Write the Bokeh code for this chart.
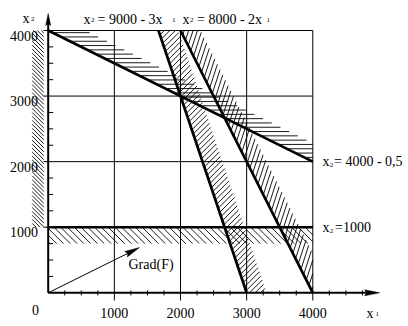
import numpy as np
from bokeh.plotting import figure
from bokeh.models import Range1d
from bokeh.core.properties import value
from bokeh.embed import file_html
from bokeh.resources import INLINE

# ---------------- data ----------------
# constraints written as x2 = c - m * x1
c_vals = [9000, 8000, 4000, 1000]
m_vals = [3, 2, 0.5, 0]
band_side = [1, 1, 1, -1]          # +1: hatched above the line, -1: below
band_dc = [900, 600, 280, 250]     # hatch band thickness (in c units)
band_angle = [45, 72, 0, -45]      # hatch stroke direction (degrees)
band_gap = [3.9, 4.2, 4.3, 4.8]    # hatch spacing (px)
x_ticks = [1000, 2000, 3000, 4000]
y_ticks = [1000, 2000, 3000, 4000]
x_tick_labels = ["1000", "2000", "3000", "4000"]
y_tick_labels = ["1000", "2000", "3000", "4000"]
box_max = 4000
grad_end = [1380, 690]             # Grad(F) direction (2, 1)
x_axis_end = 5010
y_axis_end = 4260
minor_step = 250

# ---------------- layout ----------------
W, H = 408, 326
SX = 264.6 / 4000.0
SY = 262.3 / 4000.0
PX0 = 47.7
PY4000 = 30.0
XR0 = -PX0 / SX
XR1 = XR0 + W / SX
YR1 = 4000 + PY4000 / SY
YR0 = YR1 - H / SY


def X(px):
    return XR0 + px / SX


def Y(py):
    return YR1 - py / SY


p = figure(width=W, height=H, x_range=Range1d(XR0, XR1), y_range=Range1d(YR0, YR1),
           output_backend="svg", toolbar_location=None,
           x_axis_location=None, y_axis_location=None, min_border=0,
           outline_line_color=None, background_fill_color="white",
           border_fill_color="white")
p.grid.grid_line_color = None


def clip_poly(poly, a, b):
    out = []
    n = len(poly)
    for i in range(n):
        P = np.array(poly[i], float)
        Q = np.array(poly[(i + 1) % n], float)
        gp = a[0] * P[0] + a[1] * P[1] + b
        gq = a[0] * Q[0] + a[1] * Q[1] + b
        if gp >= 0:
            out.append(P)
        if (gp >= 0) != (gq >= 0):
            t = gp / (gp - gq)
            out.append(P + t * (Q - P))
    return out


def hatch(poly, angle_deg, gap_px):
    P = np.array(poly, float) * np.array([SX, SY])
    area = 0.5 * np.sum(P[:, 0] * np.roll(P[:, 1], -1) - np.roll(P[:, 0], -1) * P[:, 1])
    if area < 0:
        P = P[::-1]
    a = np.radians(angle_deg)
    d = np.array([np.cos(a), np.sin(a)])
    nrm = np.array([-np.sin(a), np.cos(a)])
    proj = P @ nrm
    xs, ys = [], []
    c = np.floor(proj.min() / gap_px) * gap_px + gap_px * 0.5
    n = len(P)
    while c < proj.max():
        p0 = c * nrm
        tmin, tmax = -1e9, 1e9
        ok = True
        for i in range(n):
            A = P[i]
            B = P[(i + 1) % n]
            e = B - A
            en = np.array([-e[1], e[0]])
            num = en @ (p0 - A)
            den = en @ d
            if abs(den) < 1e-12:
                if num < 0:
                    ok = False
                    break
                continue
            t = -num / den
            if den > 0:
                tmin = max(tmin, t)
            else:
                tmax = min(tmax, t)
        if ok and tmax - tmin > 0.3:
            q0 = (p0 + tmin * d) / np.array([SX, SY])
            q1 = (p0 + tmax * d) / np.array([SX, SY])
            xs.append([q0[0], q1[0]])
            ys.append([q0[1], q1[1]])
        c += gap_px
    return xs, ys


box = [(0, 0), (box_max, 0), (box_max, box_max), (0, box_max)]
hx, hy = [], []
for c, m, s, dc, ang, gap in zip(c_vals, m_vals, band_side, band_dc, band_angle, band_gap):
    poly = clip_poly(box, (s * m, s * 1.0), -s * c)
    poly = clip_poly(poly, (-s * m, -s * 1.0), s * c + dc)
    xs, ys = hatch(poly, ang, gap)
    hx += xs
    hy += ys

# hatch left of the x2 axis (x1 >= 0), from x2 = 1000 up
left_band = [(X(31.7), c_vals[3]), (X(43.3), c_vals[3]), (X(43.3), box_max), (X(31.7), box_max)]
xs, ys = hatch(left_band, -45, 2.8)
hx += xs
hy += ys
p.multi_line(hx, hy, line_color="black", line_width=0.9)

# grid
gx0 = Y(300)
p.segment(x0=x_ticks, y0=[gx0] * 4, x1=x_ticks, y1=[box_max] * 4, line_color="black", line_width=1)
p.segment(x0=[X(43)] * 4, y0=y_ticks, x1=[box_max] * 4, y1=y_ticks, line_color="black", line_width=1)

# minor ticks
mx = [v for v in range(minor_step, x_axis_end - 200, minor_step) if v % 1000 != 0]
p.segment(x0=mx, y0=[-40] * len(mx), x1=mx, y1=[36] * len(mx), line_color="black", line_width=1)
my = [v for v in range(minor_step, box_max, minor_step) if v % 1000 != 0]
p.segment(x0=[0] * len(my), y0=my, x1=[X(52.7)] * len(my), y1=my, line_color="black", line_width=1)

# constraint lines
for c, m in zip(c_vals, m_vals):
    if m == 0:
        xa, xb = 0, box_max
    else:
        xa = max(0, (c - box_max) / m)
        xb = min(box_max, c / m)
    p.line([xa, xb], [c - m * xa, c - m * xb], line_color="black", line_width=2.7)


def head(tx, ty, dx, dy, length_px, width_px):
    v = np.array([dx * SX, dy * SY])
    v = v / np.hypot(*v)
    w = np.array([-v[1], v[0]])
    tip = np.array([tx * SX, ty * SY])
    base = tip - v * length_px
    pts = [tip, base + w * width_px / 2, base + v * 2.0, base - w * width_px / 2]
    return [q[0] / SX for q in pts], [q[1] / SY for q in pts]


# axes
p.line([0, x_axis_end - 10 / SX], [0, 0], line_color="black", line_width=2)
p.line([0, 0], [0, y_axis_end - 8 / SY], line_color="black", line_width=2)
ax_x, ax_y = head(x_axis_end, 0, 1, 0, 15, 6)
ay_x, ay_y = head(0, y_axis_end, 0, 1, 12, 5)
# gradient arrow
gl = np.hypot(grad_end[0] * SX, grad_end[1] * SY)
shrink = 1 - 10 / gl
p.line([0, grad_end[0] * shrink], [0, grad_end[1] * shrink], line_color="black", line_width=1)
g_x, g_y = head(grad_end[0], grad_end[1], grad_end[0], grad_end[1], 15, 6)
p.patches([ax_x, ay_x, g_x], [ax_y, ay_y, g_y], fill_color="black", line_color="black", line_width=0.5)

# ---------------- texts ----------------
FONT = value("Liberation Serif")


def txt(px, py, s, size=14, align="left"):
    p.text(x=[X(px)], y=[Y(py)], text=[s], text_font=FONT, text_font_size=f"{size}px",
           text_align=align, text_baseline="alphabetic", text_color="black")


# tick labels
p.text(x=[X(37.5)] * 4, y=[v - 5 / SY for v in y_ticks], text=y_tick_labels, text_font=FONT,
       text_font_size="14px", text_align="right", text_baseline="alphabetic", text_color="black")
p.text(x=x_ticks, y=[Y(312.7)] * 4, text=x_tick_labels, text_font=FONT,
       text_font_size="14px", text_align="center", text_baseline="alphabetic", text_color="black")
txt(35, 309.5, "0", align="center")

# axis titles
txt(22, 17.5, "x")
txt(30.5, 18.5, "2", size=7)
txt(366, 312.5, "x")
txt(375, 313.7, "1", size=7)

# equation labels
txt(83, 18.5, "x")
txt(90.5, 19.5, "2", size=7)
txt(97, 18.5, "= 9000 - 3x")
txt(171.5, 19, "1", size=7)
txt(182, 18.5, "x")
txt(189.5, 19.5, "2", size=7)
txt(196.5, 18.5, "= 8000 - 2x")
txt(266, 19, "1", size=7)
txt(322, 160.5, "x")
txt(329.3, 164, "2", size=7)
txt(333.5, 160.5, "= 4000 - 0,5")
txt(322, 227, "x")
txt(329.3, 230.7, "2", size=7)
txt(334.5, 227, "=1000")
txt(128, 263.5, "Grad(F)")

open("out.html", "w").write(file_html(p, INLINE))
